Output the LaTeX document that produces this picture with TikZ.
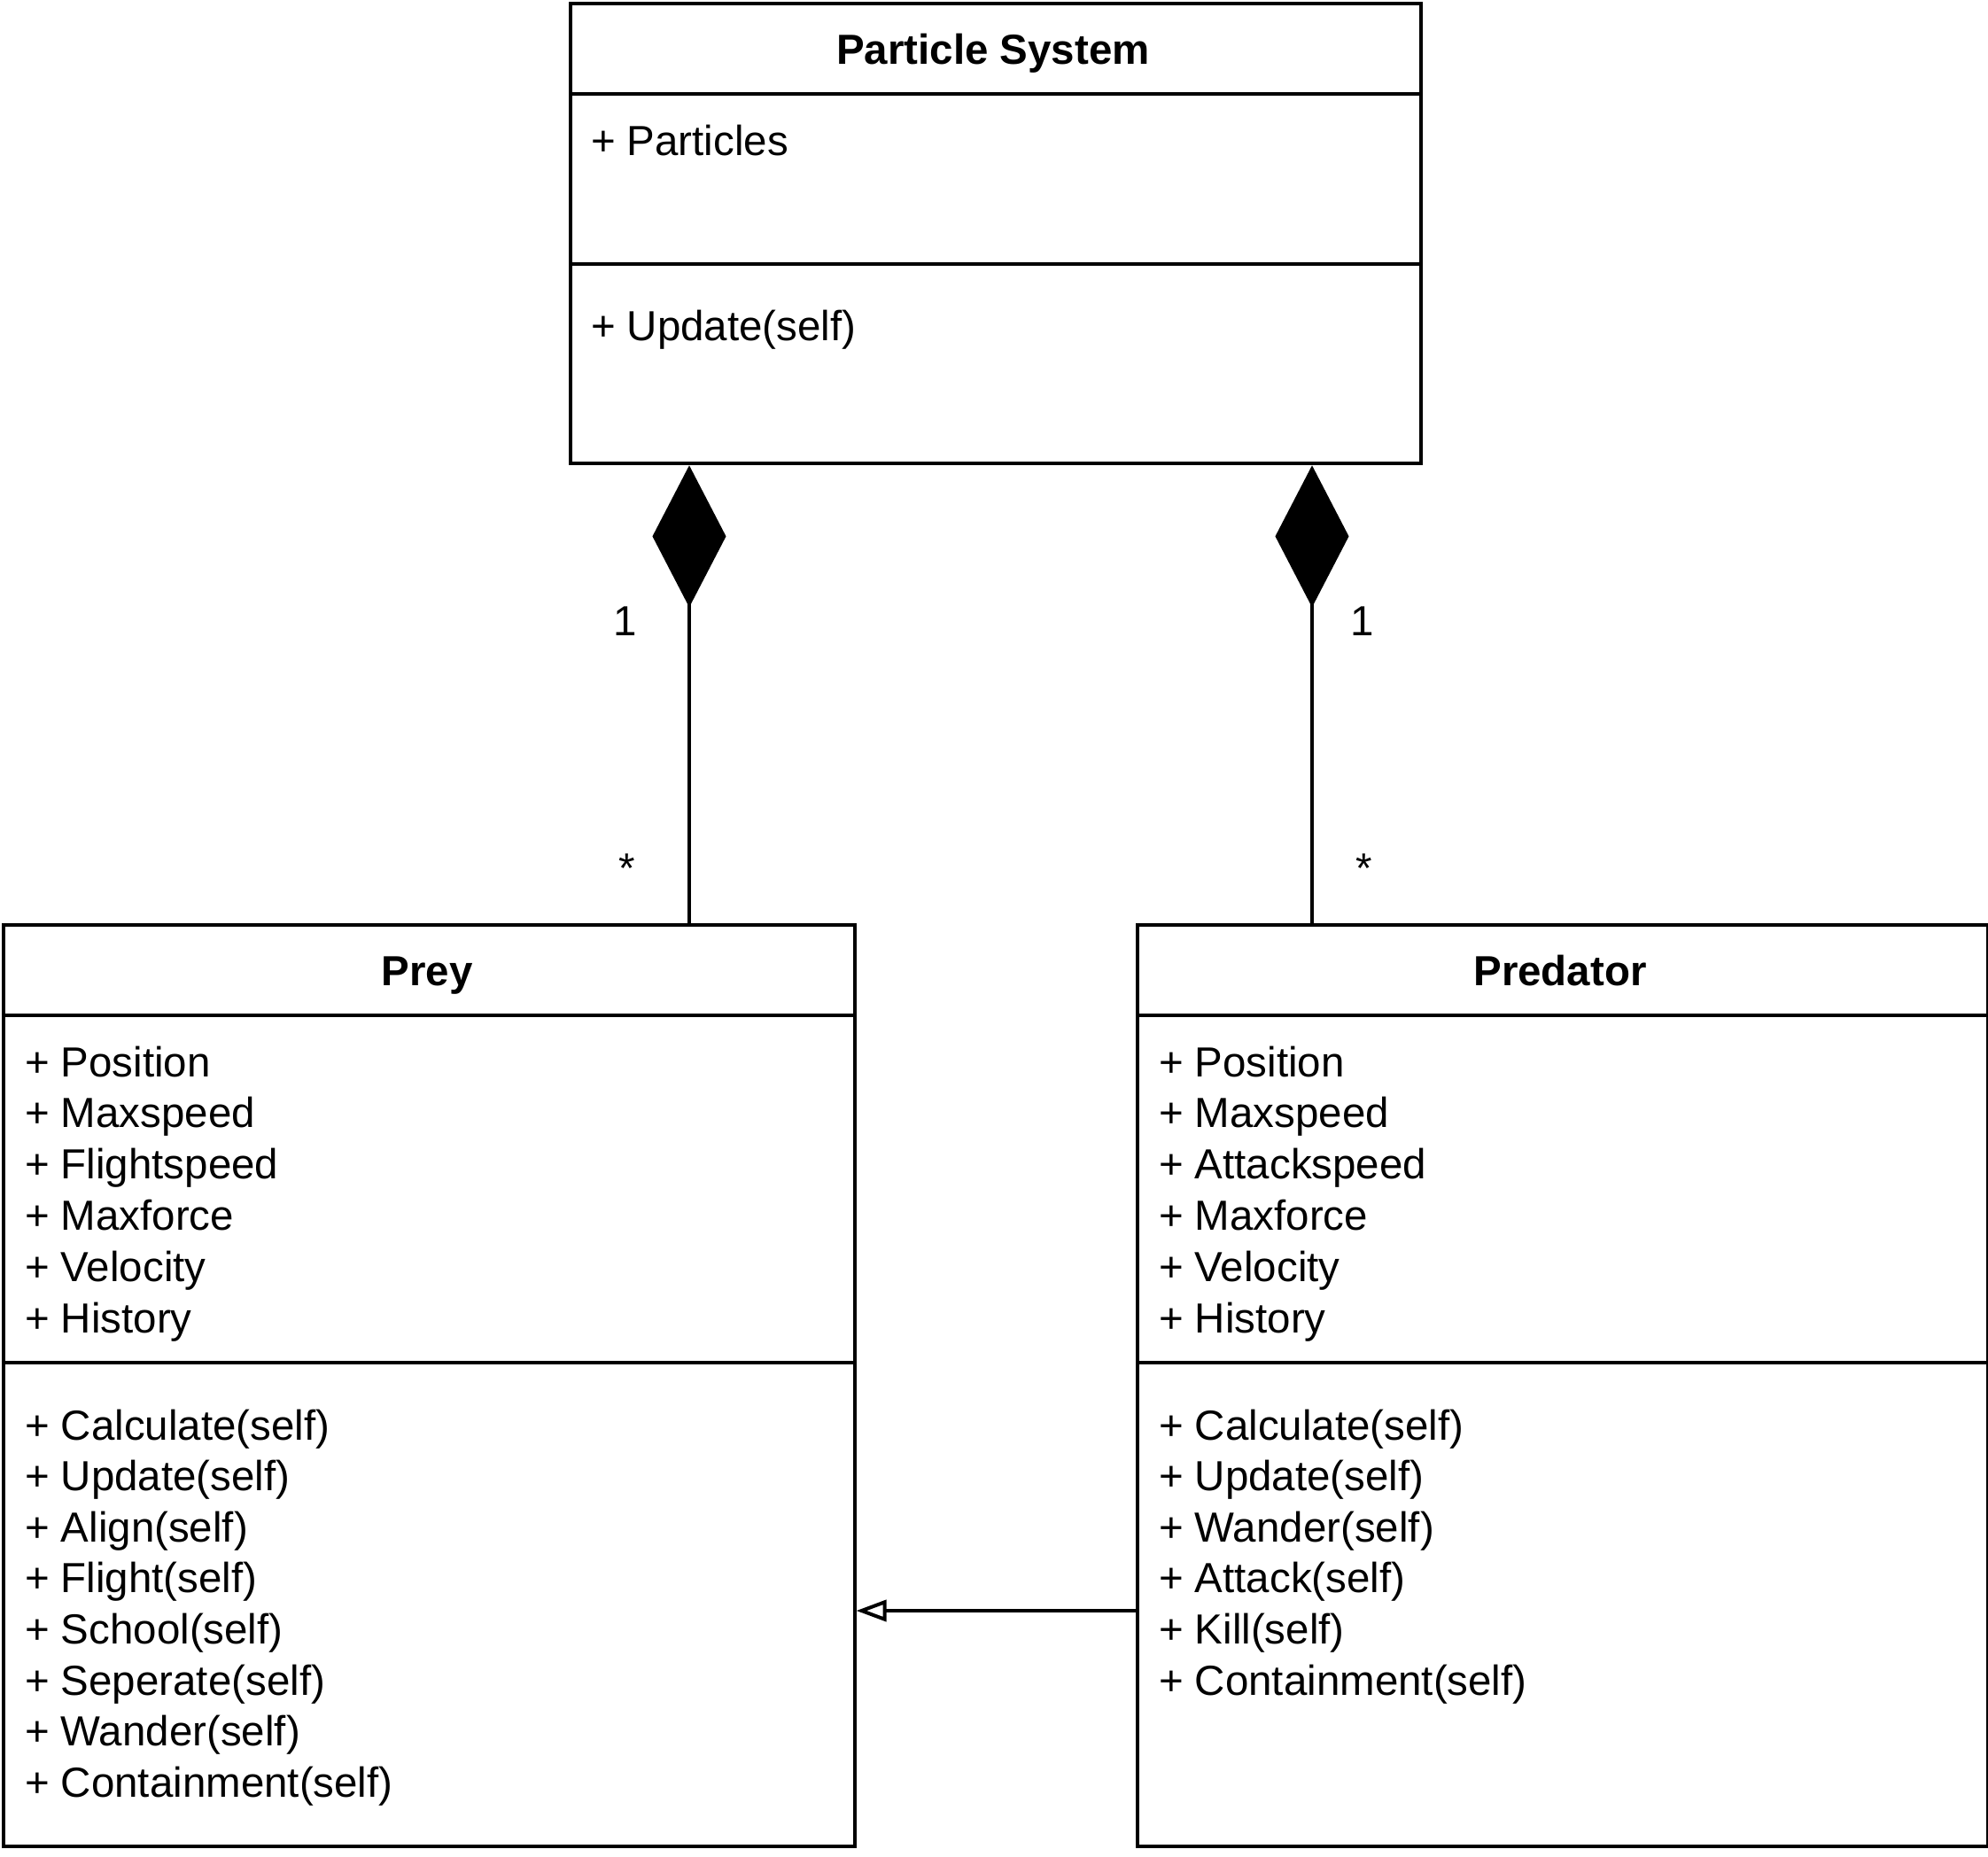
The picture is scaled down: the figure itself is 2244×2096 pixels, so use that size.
\documentclass[tikz,border=0pt]{standalone}
\usepackage{fontspec}
\setmainfont{Liberation Sans}
\usetikzlibrary{arrows.meta}
\begin{document}
\begin{tikzpicture}[x=0.01cm,y=-0.01cm,line width=0.04cm,
  classbox/.style={draw,line width=0.04cm,anchor=north west,inner sep=0pt,
    minimum width=#1},
  member/.style={anchor=base west,inner sep=0pt,font=\fontsize{13.5}{16}\selectfont},
  title/.style={anchor=base,inner sep=0pt,font=\fontsize{13.5}{16}\selectfont\bfseries},
  mult/.style={anchor=base,inner sep=0pt,font=\fontsize{13.5}{16}\selectfont},
  composition/.style={-{Diamond[length=1.6cm,width=0.83cm,fill=black]}},
  generalization/.style={-{Triangle[open,length=0.34cm,width=0.24cm,fill=white]}}]
\useasboundingbox (0,0) rectangle (2244,2096);

% class boxes
\node[classbox=9.59cm,minimum height=5.19cm] (ps) at (642,2) {};
\node[classbox=9.60cm,minimum height=10.39cm] (prey) at (2,1042) {};
\node[classbox=9.59cm,minimum height=10.39cm] (pred) at (1282,1042) {};

% compartment dividers
\draw (ps.west |- 0,106) -- (ps.east |- 0,106);
\draw (ps.west |- 0,298) -- (ps.east |- 0,298);
\draw (prey.west |- 0,1146) -- (prey.east |- 0,1146);
\draw (prey.west |- 0,1538) -- (prey.east |- 0,1538);
\draw (pred.west |- 0,1146) -- (pred.east |- 0,1146);
\draw (pred.west |- 0,1538) -- (pred.east |- 0,1538);

% titles
\node[title] (ps-title) at (1121,72) {Particle System};
\node[title] (prey-title) at (482,1112) {Prey};
\node[title] (pred-title) at (1761,1112) {Predator};

% Particle System members
\node[member] (ps-a1) at (665,175) {+ Particles};
\node[member] (ps-m1) at (665,384) {+ Update(self)};

% Prey members
\foreach \t [count=\i from 0] in {Position,Maxspeed,Flightspeed,Maxforce,Velocity,History}
  \node[member] (prey-a\i) at (26,1215+57.8*\i) {+ \t};
\foreach \t [count=\i from 0] in {Calculate(self),Update(self),Align(self),Flight(self),School(self),Seperate(self),Wander(self),Containment(self)}
  \node[member] (prey-m\i) at (26,1625+57.6*\i) {+ \t};

% Predator members
\foreach \t [count=\i from 0] in {Position,Maxspeed,Attackspeed,Maxforce,Velocity,History}
  \node[member] (pred-a\i) at (1306,1215+57.8*\i) {+ \t};
\foreach \t [count=\i from 0] in {Calculate(self),Update(self),Wander(self),Attack(self),Kill(self),Containment(self)}
  \node[member] (pred-m\i) at (1306,1625+57.6*\i) {+ \t};

% composition connectors
\coordinate (lx) at (778,0);
\coordinate (rx) at (1481,0);
\draw[composition] (prey.north -| lx) -- (ps.south -| lx);
\draw[composition] (pred.north -| rx) -- (ps.south -| rx);

% multiplicities
\node[mult] (m1l) at (706,717) {1};
\node[mult] (m1r) at (1538,717) {1};
\node[mult] (msl) at (708,996) {*};
\node[mult] (msr) at (1540,996) {*};

% generalization
\coordinate (gy) at (0,1818);
\draw[generalization] (pred.west |- gy) -- (prey.east |- gy);
\end{tikzpicture}
\end{document}
